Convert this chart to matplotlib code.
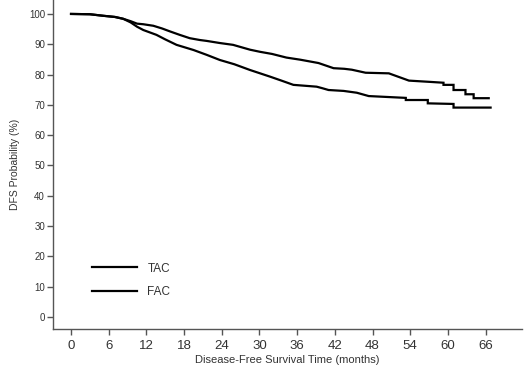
import matplotlib
matplotlib.use("Agg")
import matplotlib.pyplot as plt

plt.rcParams['font.family'] = ['Liberation Sans', 'DejaVu Sans']

# Kaplan-Meier curves (month, DFS %); repeated months mark visible steps
tac_t = [0, 3, 5.1, 7, 8.3, 9.5, 10.5, 11.5, 13.1, 14.5, 15.8, 17.3, 18.9, 20.5, 21.6,
         23.7, 25.8, 28.5, 30.1, 32, 34.3, 36.5, 39.4, 41.8, 43.5, 44.7, 46.9, 50.6,
         53.8, 57, 59.3, 59.3, 60.9, 60.9, 62.8, 62.8, 64.1, 64.1, 66.5]
tac_s = [100, 99.9, 99.4, 99.0, 98.4, 97.6, 96.8, 96.6, 96.1, 95.2, 94.2, 93.1, 92.0,
         91.4, 91.1, 90.4, 89.8, 88.2, 87.5, 86.8, 85.6, 84.9, 83.8, 82.1, 81.9, 81.6,
         80.6, 80.4, 78.0, 77.6, 77.3, 76.6, 76.6, 74.9, 74.9, 73.5, 73.5, 72.2, 72.2]

fac_t = [0, 3, 5.1, 7, 8.3, 9.5, 10.5, 11.5, 13.6, 15, 16.8, 19.5, 21.6, 23.7, 26, 28.5,
         31.7, 33.5, 35.4, 39.1, 40, 41, 43.4, 45.5, 47.4, 53.3, 53.3, 56.8, 56.8, 60.9,
         60.9, 66.8]
fac_s = [100, 99.9, 99.4, 99.0, 98.4, 97.2, 95.8, 94.7, 93.1, 91.6, 89.8, 88.1, 86.5,
         84.8, 83.4, 81.5, 79.3, 78.0, 76.6, 76.0, 75.5, 74.9, 74.6, 74.0, 72.9, 72.3,
         71.6, 71.6, 70.5, 70.3, 69.1, 69.1]

x_ticks = [0, 6, 12, 18, 24, 30, 36, 42, 48, 54, 60, 66]
y_ticks = [0, 10, 20, 30, 40, 50, 60, 70, 80, 90, 100]

W, H = 524, 372
fig = plt.figure(figsize=(W / 100, H / 100), dpi=100)
ax = fig.add_axes([53 / W, (H - 329) / H, (522 - 53) / W, 329 / H])

ax.plot(tac_t, tac_s, color='black', lw=1.6, label='TAC', solid_joinstyle='miter')
ax.plot(fac_t, fac_s, color='black', lw=1.6, label='FAC', solid_joinstyle='miter')

ax.set_xlim(-2.87, 71.8)
ax.set_ylim(-3.96, 104.6)
ax.set_xticks(x_ticks)
ax.set_yticks(y_ticks)

for s in ['top', 'right']:
    ax.spines[s].set_visible(False)
for s in ['left', 'bottom']:
    ax.spines[s].set_color('#555555')
    ax.spines[s].set_linewidth(1.0)

ax.tick_params(axis='x', length=4.3, width=1.0, color='#555555', labelsize=9.5,
               labelcolor='#333333', pad=3.5)
ax.tick_params(axis='y', length=4.3, width=1.0, color='#555555', labelsize=7,
               labelcolor='#333333', pad=1.5)

ax.set_xlabel('Disease-Free Survival Time (months)', fontsize=8, color='#333333', labelpad=2)
ax.set_ylabel('DFS Probability (%)', fontsize=7.5, color='#333333', labelpad=6)

leg = ax.legend(loc='center left', bbox_to_anchor=(92 / W, (H - 280.5) / H),
                bbox_transform=fig.transFigure, frameon=False, fontsize=8.5,
                handlelength=3.8, handletextpad=0.9, labelspacing=1.0,
                borderpad=0, borderaxespad=0)
for t in leg.get_texts():
    t.set_color('#333333')

fig.savefig('out.png', dpi=100)
